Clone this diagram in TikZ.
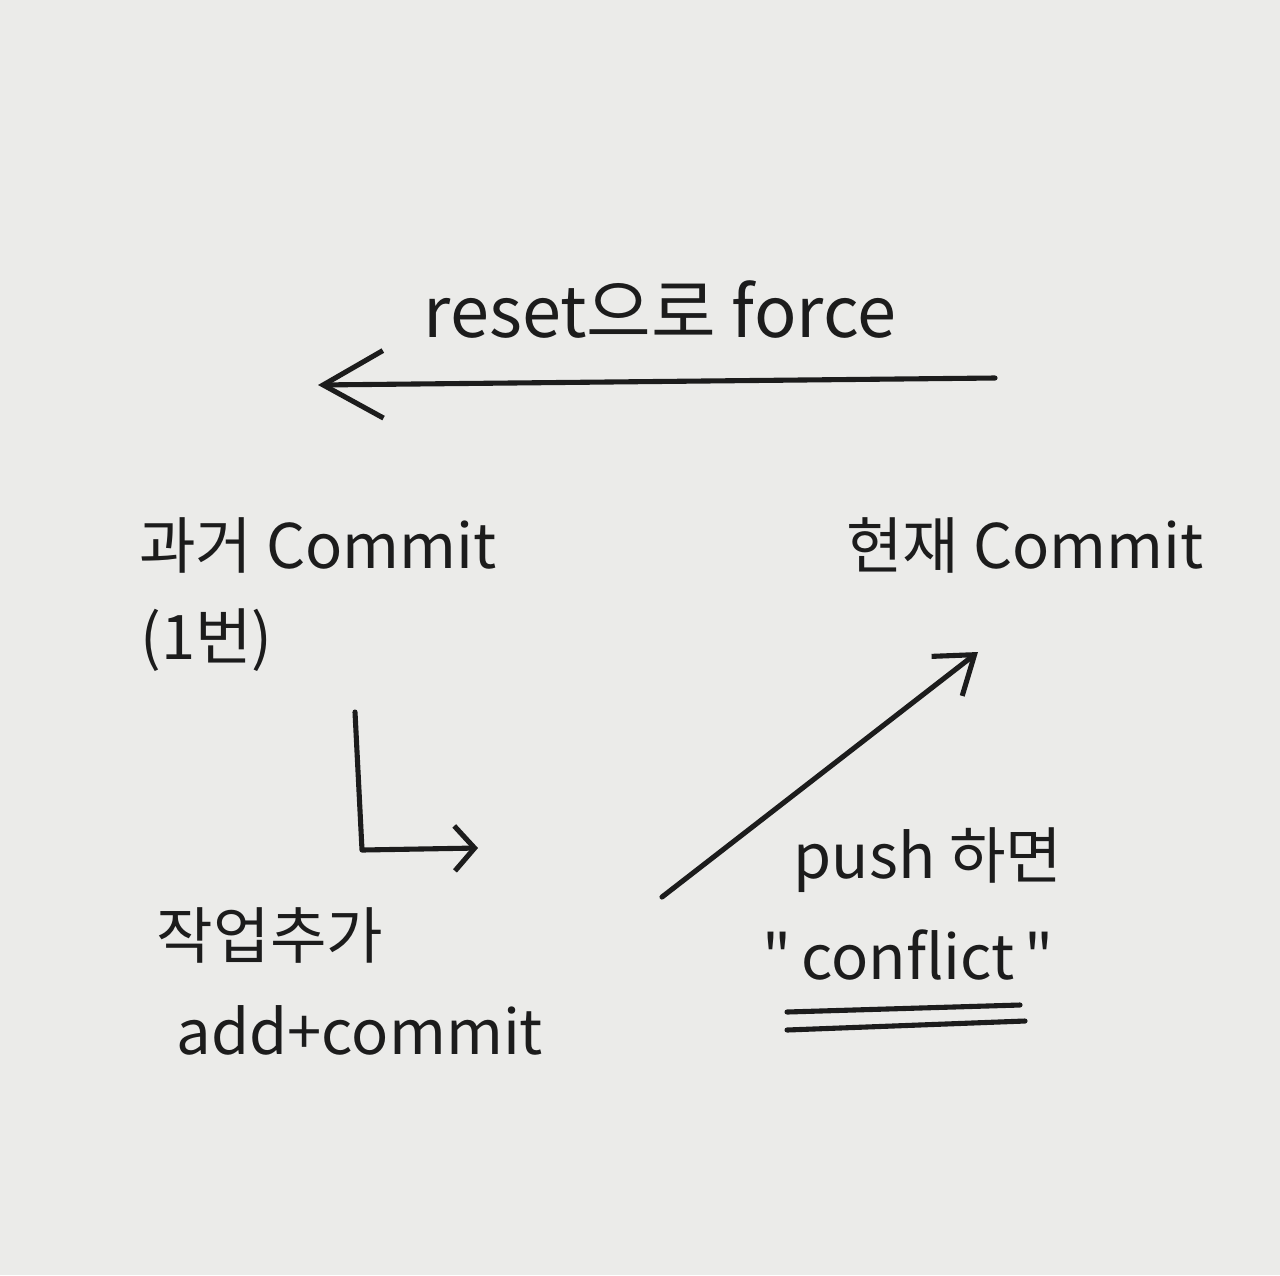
\documentclass[tikz,border=0pt]{standalone}
\usepackage{fontspec}
\setmainfont{Noto Sans CJK KR}[Ligatures=TeXOff]
\usetikzlibrary{arrows.meta}
\definecolor{paper}{HTML}{EBEBE9}
\definecolor{ink}{HTML}{1C1C1C}
\begin{document}
\begin{tikzpicture}[x=0.02cm,y=-0.02cm,
  lbl/.style={text=ink,inner sep=0pt,font=\fontsize{35}{40}\selectfont},
  biglbl/.style={lbl,font=\fontsize{40}{46}\selectfont},
  pen/.style={draw=ink,line width=2.9pt,line cap=round,line join=round},
  bigbarb/.style={-{Straight Barb[length=1.2cm,width=1.35cm,line width=2.9pt]}},
  smallbarb/.style={-{Straight Barb[length=0.4cm,width=0.9cm,line width=2.9pt]}},
  midbarb/.style={-{Straight Barb[length=0.7cm,width=1.0cm,line width=2.9pt]}}]
\fill[paper] (0,0) rectangle (1280,1275);
\useasboundingbox (0,0) rectangle (1280,1275);
\node[biglbl] (reset) at (660,310) {reset으로 force};
\node[lbl] (past) at (318,545) {과거 Commit};
\node[lbl,anchor=west] (num) at (140,640) {(1번)};
\node[lbl] (now) at (1025,545) {현재 Commit};
\node[lbl] (work) at (270,935) {작업추가};
\node[lbl] (add) at (360,1030) {add+commit};
\node[lbl] (push) at (928,860) {push 하면};
\node[lbl] (conf) at (908,955) {"\,conflict\,"};
\coordinate (ta) at (995,378);
\coordinate (tb) at (318,385);
\draw[pen,bigbarb] (ta) -- (tb);
\coordinate (la) at (355,712);
\coordinate (lc) at (362,850);
\coordinate (lb) at (478,848);
\draw[pen,smallbarb] (la) -- (lc) -- (lb);
\coordinate (da) at (662,897);
\coordinate (db) at (978,652);
\draw[pen,midbarb] (da) -- (db);
\coordinate (u1a) at (787,1012);
\coordinate (u1b) at (1020,1005);
\coordinate (u2a) at (787,1030);
\coordinate (u2b) at (1025,1021);
\draw[pen] (u1a) -- (u1b);
\draw[pen] (u2a) -- (u2b);
\end{tikzpicture}
\end{document}
